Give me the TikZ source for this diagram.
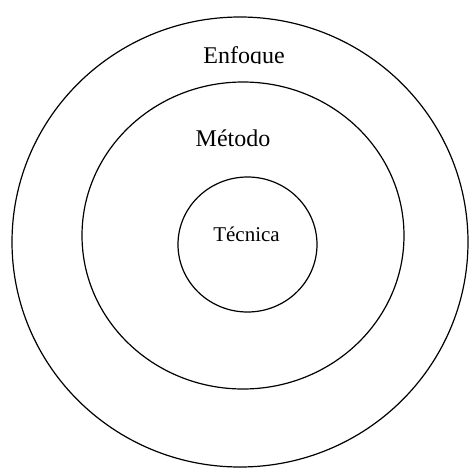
\documentclass[tikz,border=0pt]{standalone}
\usepackage{fontspec}
\setmainfont{Liberation Serif}
\begin{document}
\begin{tikzpicture}[x=1pt,y=-1pt,
  ring/.style={draw=black,line width=1.2pt},
  lbl/.style={anchor=base,inner sep=0pt,font=\fontsize{24}{28}\selectfont},
  lblsmall/.style={anchor=base,inner sep=0pt,font=\fontsize{21}{25}\selectfont}]
\useasboundingbox (0,0) rectangle (469,469);
\draw[ring] (240,242) ellipse [x radius=228,y radius=225];
\draw[ring] (243,235.5) ellipse [x radius=161,y radius=153.5];
\draw[ring] (247.5,244.5) ellipse [x radius=69.5,y radius=67.5];
\begin{scope}
\clip (150,30) rectangle (340,63.5);
\node[lbl] (enfoque) at (244,63) {Enfoque};
\end{scope}
\node[lbl] (metodo) at (233,146.5) {Método};
\node[lblsmall] (tecnica) at (246.5,241.5) {Técnica};
\end{tikzpicture}
\end{document}
